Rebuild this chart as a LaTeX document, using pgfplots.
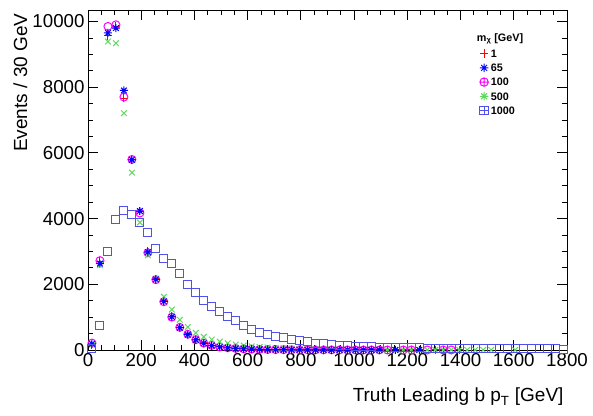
\documentclass[border=0pt]{standalone}
\usepackage{pgfplots}
\pgfplotsset{compat=1.18}
\usepackage{fontspec}
\setmainfont{Liberation Sans}
\definecolor{cred}{RGB}{255,0,0}
\definecolor{cblue}{RGB}{0,0,255}
\definecolor{cmag}{RGB}{255,0,255}
\definecolor{cgreen}{RGB}{95,215,95}
\definecolor{csq}{RGB}{80,80,235}
\pgfdeclareplotmark{rstar}{%
  \pgfpathmoveto{\pgfqpoint{-\pgfplotmarksize}{0pt}}\pgfpathlineto{\pgfqpoint{\pgfplotmarksize}{0pt}}%
  \pgfpathmoveto{\pgfqpoint{0pt}{-\pgfplotmarksize}}\pgfpathlineto{\pgfqpoint{0pt}{\pgfplotmarksize}}%
  \pgfpathmoveto{\pgfqpoint{-0.707\pgfplotmarksize}{-0.707\pgfplotmarksize}}\pgfpathlineto{\pgfqpoint{0.707\pgfplotmarksize}{0.707\pgfplotmarksize}}%
  \pgfpathmoveto{\pgfqpoint{-0.707\pgfplotmarksize}{0.707\pgfplotmarksize}}\pgfpathlineto{\pgfqpoint{0.707\pgfplotmarksize}{-0.707\pgfplotmarksize}}%
  \pgfusepathqstroke}
\pgfdeclareplotmark{boxplus}{%
  \pgfpathrectangle{\pgfqpoint{-\pgfplotmarksize}{-\pgfplotmarksize}}{\pgfqpoint{2\pgfplotmarksize}{2\pgfplotmarksize}}%
  \pgfpathmoveto{\pgfqpoint{-\pgfplotmarksize}{0pt}}\pgfpathlineto{\pgfqpoint{\pgfplotmarksize}{0pt}}%
  \pgfpathmoveto{\pgfqpoint{0pt}{-\pgfplotmarksize}}\pgfpathlineto{\pgfqpoint{0pt}{\pgfplotmarksize}}%
  \pgfusepathqstroke}
\begin{document}
\begin{tikzpicture}
\begin{axis}[
  name=ax,
  scale only axis, width=479pt, height=340pt,
  xmin=0, xmax=1800, ymin=0, ymax=10350,
  clip=false,
  axis line style={line width=0.9pt},
  xtick={0,200,...,1800}, ytick={0,2000,...,10000},
  minor x tick num=3, minor y tick num=3,
  tick align=inside,
  major tick length=10pt, minor tick length=5pt,
  every tick/.style={black, line width=0.8pt},
  scaled y ticks=false,
  /pgf/number format/1000 sep={},
  /pgf/number format/assume math mode=true,
  ticklabel style={font=\fontsize{18.7}{22}\selectfont},
  label style={font=\fontsize{19}{22}\selectfont},
  xlabel={Truth Leading b p\textsubscript{T} [GeV]},
  ylabel={Events / 30 GeV},
  xlabel style={at={(axis description cs:1,-0.1529)}, anchor=base east},
  ylabel style={at={(axis description cs:-0.1273,1)}, anchor=base east},
  legend style={draw=none, fill=none, at={(axis description cs:0.8115,0.892)}, anchor=north west,
    font=\fontsize{10.8}{12}\selectfont\bfseries, legend cell align=left,
    nodes={inner sep=1pt, text depth=0pt, text height=7.5pt}, row sep=4.7pt,
    /tikz/every odd column/.style={column sep=1.5pt}},
  legend image code/.code={\draw[mark repeat=2,mark phase=2,#1] plot coordinates {(-4pt,0pt) (0pt,0pt) (4pt,0pt)};},
  mark size=4pt,
]
% legend images
\addlegendimage{only marks, mark=+, cred, line width=1pt, mark size=4.2pt}
\addlegendentry{1}
\addlegendimage{only marks, mark=rstar, cblue, line width=1pt, mark size=4.2pt}
\addlegendentry{65}
\addlegendimage{only marks, mark=oplus, cmag, line width=1pt, mark size=4.2pt}
\addlegendentry{100}
\addlegendimage{only marks, mark=rstar, cgreen, line width=1pt, mark size=4.2pt}
\addlegendentry{500}
\addlegendimage{only marks, mark=boxplus, csq, line width=1pt, mark size=4.2pt}
\addlegendentry{1000}
% data
\addplot[forget plot, only marks, mark=+, cred, line width=1pt] coordinates {
(15,150)(45,2700)(75,9570)(105,9860)(135,7670)(165,5790)(195,4220)(225,3000)(255,2170)(285,1500)(315,1030)(345,700)(375,490)(405,330)(435,215)(465,145)(495,100)(525,72)(555,52)(585,38)(615,28)(645,21)(675,16)(705,12)(735,10)(765,8)(795,6)(825,5)(855,4)(885,3)(915,3)(945,2)(975,2)(1005,2)(1035,1)(1065,1)(1095,1)(1125,1)(1155,1)(1185,1)(1215,1)(1245,1)(1305,1)(1335,1)(1395,1)};
\addplot[forget plot, only marks, mark=o, cmag, line width=1pt] coordinates {
(15,210)(45,2720)(75,9850)(105,9900)(135,7700)(165,5800)(195,4170)(225,2960)(255,2140)(285,1470)(315,1000)(345,690)(375,480)(405,315)(435,210)(465,140)(495,95)(525,68)(555,50)(585,36)(615,27)(645,20)(675,15)(705,12)(735,9)(765,7)(795,6)(825,5)(855,4)(885,3)(915,3)(945,2)(975,2)(1005,2)(1035,1)(1065,1)(1095,1)(1125,1)(1185,1)(1215,1)(1275,1)(1335,1)(1365,1)};
\addplot[forget plot, only marks, mark=x, cgreen, line width=1pt] coordinates {
(15,160)(45,2580)(75,9390)(105,9340)(135,7210)(165,5400)(195,3880)(225,2880)(255,2170)(285,1620)(315,1230)(345,920)(375,700)(405,520)(435,400)(465,320)(495,255)(525,205)(555,165)(585,135)(615,112)(645,93)(675,78)(705,65)(735,55)(765,46)(795,39)(825,33)(855,28)(885,24)(915,21)(945,18)(975,15)(1005,13)(1035,11)(1065,10)(1095,9)(1125,8)(1155,7)(1185,6)(1215,5)(1245,5)(1275,4)(1305,4)(1335,3)(1365,3)(1395,3)(1425,2)(1455,2)(1485,2)(1515,2)(1605,1)};
\addplot[forget plot, only marks, mark=rstar, cblue, line width=1pt] coordinates {
(15,190)(45,2630)(75,9650)(105,9800)(135,7900)(165,5790)(195,4230)(225,2980)(255,2150)(285,1480)(315,1010)(345,680)(375,470)(405,310)(435,205)(465,135)(495,92)(525,65)(555,46)(585,34)(615,25)(645,19)(675,14)(705,11)(735,8)(765,6)(795,5)(825,4)(855,3)(885,3)(915,2)(945,2)(975,1)(1005,1)(1035,1)(1065,1)(1095,1)(1155,1)(1245,1)};
\addplot[forget plot, only marks, mark=square, csq, mark options={draw=csq}, line width=1pt] coordinates {
(15,60)(45,760)(75,3000)(105,3980)(135,4240)(165,4130)(195,3870)(225,3580)(255,3100)(285,2790)(315,2620)(345,2320)(375,2000)(405,1750)(435,1520)(465,1320)(495,1180)(525,1020)(555,900)(585,760)(615,610)(645,530)(675,470)(705,410)(735,370)(765,325)(795,275)(825,245)(855,205)(885,185)(915,170)(945,150)(975,132)(1005,120)(1035,105)(1065,97)(1095,90)(1125,84)(1155,78)(1185,73)(1215,68)(1245,64)(1275,60)(1305,57)(1335,54)(1365,51)(1395,49)(1425,47)(1455,45)(1485,43)(1515,41)(1545,40)(1575,38)(1605,37)(1635,35)(1665,34)(1695,33)(1725,32)(1755,31)(1785,30)};
\node[anchor=base west, inner sep=0pt, font=\fontsize{10.8}{12}\selectfont\bfseries] at (axis description cs:0.8115,0.9088) {m\textsubscript{χ} [GeV]};
\end{axis}
\path (ax.south west) ++(-88pt,-65pt) rectangle ++(593pt,415pt);
\end{tikzpicture}
\end{document}
